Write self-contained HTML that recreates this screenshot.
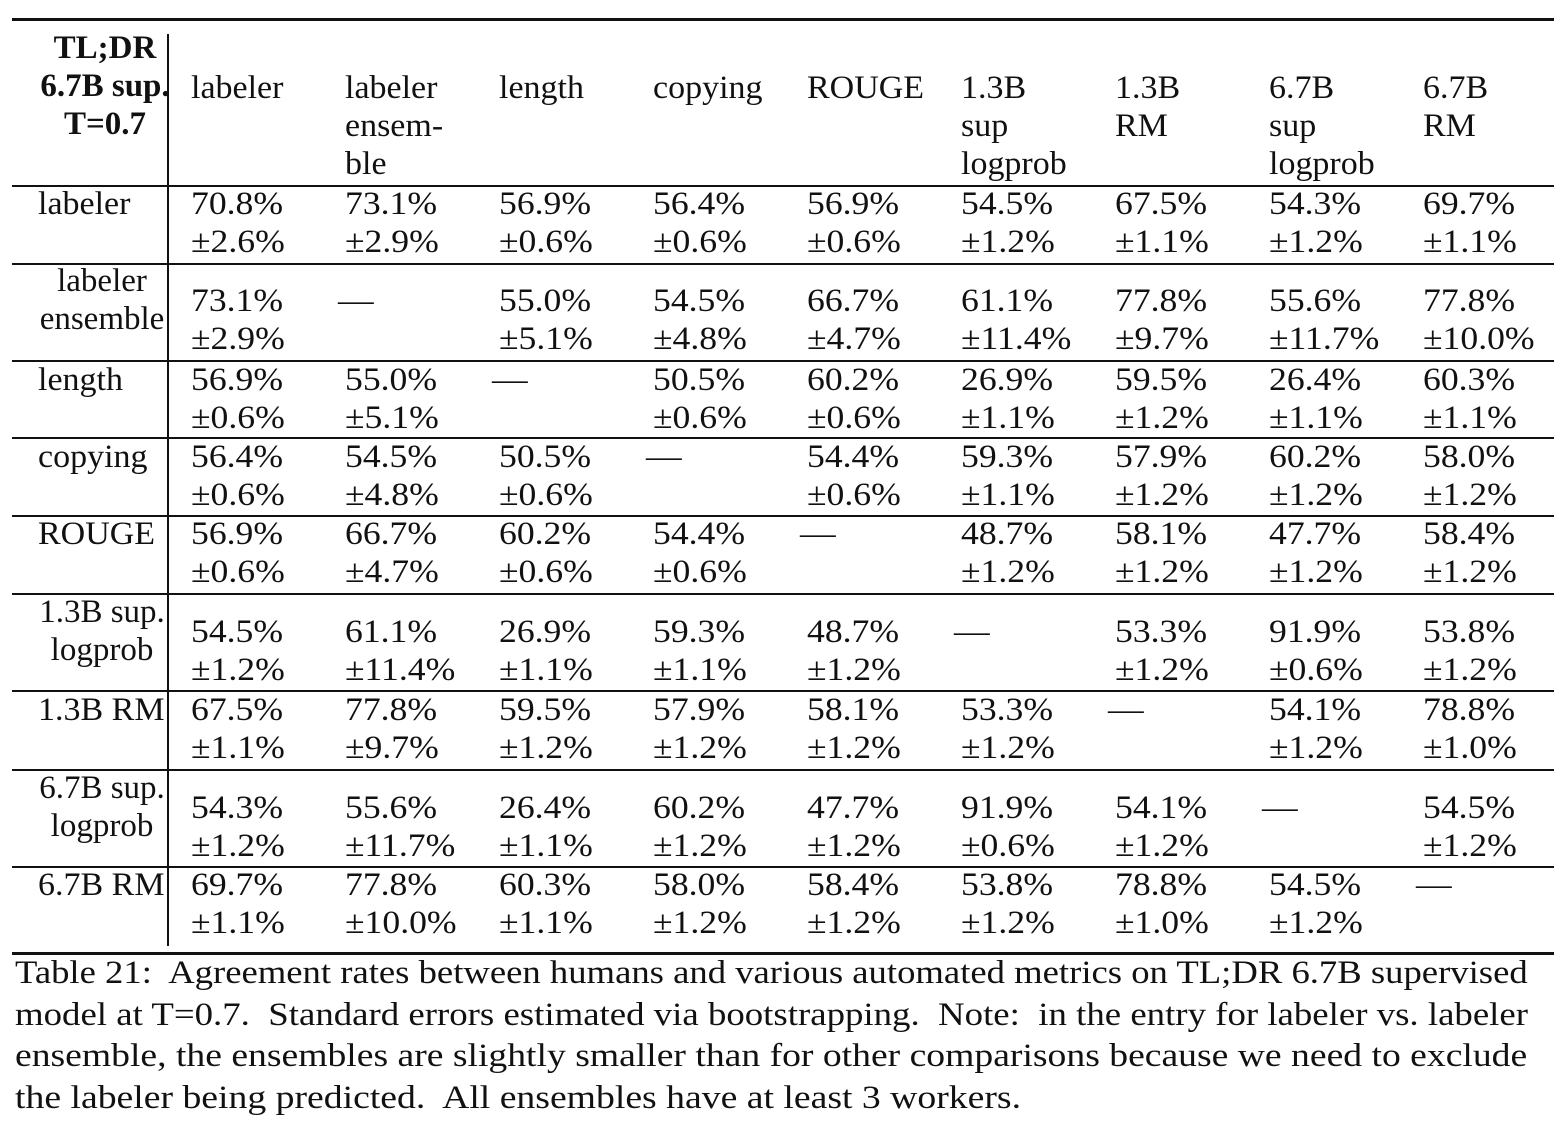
<!DOCTYPE html>
<html><head><meta charset="utf-8"><style>
body{margin:0;width:1568px;height:1144px;background:#fff;position:relative;overflow:hidden;font-family:"Liberation Serif",serif;font-size:33px;color:#111}
.t{position:absolute;white-space:nowrap;line-height:38px;transform-origin:0 0;transform:scaleX(1.08)}
.w{transform:scaleX(1.03)}
.h{position:absolute;background:#111;left:12px;width:1542px}
.v{position:absolute;background:#111;left:167px;width:2px;top:34px;height:912px}
.c{position:absolute;white-space:nowrap;line-height:38px;text-align:center;width:156px;left:12px}
.b{font-weight:bold}
.cap{position:absolute;left:15px;white-space:nowrap;line-height:41.6px;font-size:32.5px;transform-origin:0 0}
</style></head><body>
<div class="h" style="top:18px;height:3px"></div>
<div class="h" style="top:185px;height:2px"></div>
<div class="h" style="top:263px;height:2px"></div>
<div class="h" style="top:360px;height:2px"></div>
<div class="h" style="top:437px;height:2px"></div>
<div class="h" style="top:515px;height:2px"></div>
<div class="h" style="top:593px;height:2px"></div>
<div class="h" style="top:690px;height:2px"></div>
<div class="h" style="top:769px;height:2px"></div>
<div class="h" style="top:866px;height:2px"></div>
<div class="h" style="top:952px;height:3px"></div>
<div class="v"></div>

<div class="c b" style="top:29px;left:24px;width:162px">TL;DR<br>6.7B sup.<br>T=0.7</div>
<div class="t w" style="left:191px;top:69px">labeler</div>
<div class="t w" style="left:345px;top:69px">labeler<br>ensem-<br>ble</div>
<div class="t w" style="left:499px;top:69px">length</div>
<div class="t w" style="left:653px;top:69px">copying</div>
<div class="t w" style="left:807px;top:69px">ROUGE</div>
<div class="t w" style="left:961px;top:69px">1.3B<br>sup<br>logprob</div>
<div class="t w" style="left:1115px;top:69px">1.3B<br>RM</div>
<div class="t w" style="left:1269px;top:69px">6.7B<br>sup<br>logprob</div>
<div class="t w" style="left:1423px;top:69px">6.7B<br>RM</div>

<div class="t w" style="left:38px;top:185px">labeler</div>
<div class="c" style="top:262px;left:24px">labeler<br>ensemble</div>
<div class="t w" style="left:38px;top:361px">length</div>
<div class="t w" style="left:38px;top:438px">copying</div>
<div class="t w" style="left:38px;top:515px">ROUGE</div>
<div class="c" style="top:593px;left:24px">1.3B sup.<br>logprob</div>
<div class="t w" style="left:38px;top:691px">1.3B RM</div>
<div class="c" style="top:769px;left:24px">6.7B sup.<br>logprob</div>
<div class="t w" style="left:38px;top:866px">6.7B RM</div>

<div class="t" style="left:191px;top:185px">70.8%<br>±2.6%</div>
<div class="t" style="left:345px;top:185px">73.1%<br>±2.9%</div>
<div class="t" style="left:499px;top:185px">56.9%<br>±0.6%</div>
<div class="t" style="left:653px;top:185px">56.4%<br>±0.6%</div>
<div class="t" style="left:807px;top:185px">56.9%<br>±0.6%</div>
<div class="t" style="left:961px;top:185px">54.5%<br>±1.2%</div>
<div class="t" style="left:1115px;top:185px">67.5%<br>±1.1%</div>
<div class="t" style="left:1269px;top:185px">54.3%<br>±1.2%</div>
<div class="t" style="left:1423px;top:185px">69.7%<br>±1.1%</div>

<div class="t" style="left:191px;top:282px">73.1%<br>±2.9%</div>
<div class="t" style="left:338px;top:282px">—</div>
<div class="t" style="left:499px;top:282px">55.0%<br>±5.1%</div>
<div class="t" style="left:653px;top:282px">54.5%<br>±4.8%</div>
<div class="t" style="left:807px;top:282px">66.7%<br>±4.7%</div>
<div class="t" style="left:961px;top:282px">61.1%<br>±11.4%</div>
<div class="t" style="left:1115px;top:282px">77.8%<br>±9.7%</div>
<div class="t" style="left:1269px;top:282px">55.6%<br>±11.7%</div>
<div class="t" style="left:1423px;top:282px">77.8%<br>±10.0%</div>

<div class="t" style="left:191px;top:361px">56.9%<br>±0.6%</div>
<div class="t" style="left:345px;top:361px">55.0%<br>±5.1%</div>
<div class="t" style="left:492px;top:361px">—</div>
<div class="t" style="left:653px;top:361px">50.5%<br>±0.6%</div>
<div class="t" style="left:807px;top:361px">60.2%<br>±0.6%</div>
<div class="t" style="left:961px;top:361px">26.9%<br>±1.1%</div>
<div class="t" style="left:1115px;top:361px">59.5%<br>±1.2%</div>
<div class="t" style="left:1269px;top:361px">26.4%<br>±1.1%</div>
<div class="t" style="left:1423px;top:361px">60.3%<br>±1.1%</div>

<div class="t" style="left:191px;top:438px">56.4%<br>±0.6%</div>
<div class="t" style="left:345px;top:438px">54.5%<br>±4.8%</div>
<div class="t" style="left:499px;top:438px">50.5%<br>±0.6%</div>
<div class="t" style="left:646px;top:438px">—</div>
<div class="t" style="left:807px;top:438px">54.4%<br>±0.6%</div>
<div class="t" style="left:961px;top:438px">59.3%<br>±1.1%</div>
<div class="t" style="left:1115px;top:438px">57.9%<br>±1.2%</div>
<div class="t" style="left:1269px;top:438px">60.2%<br>±1.2%</div>
<div class="t" style="left:1423px;top:438px">58.0%<br>±1.2%</div>

<div class="t" style="left:191px;top:515px">56.9%<br>±0.6%</div>
<div class="t" style="left:345px;top:515px">66.7%<br>±4.7%</div>
<div class="t" style="left:499px;top:515px">60.2%<br>±0.6%</div>
<div class="t" style="left:653px;top:515px">54.4%<br>±0.6%</div>
<div class="t" style="left:800px;top:515px">—</div>
<div class="t" style="left:961px;top:515px">48.7%<br>±1.2%</div>
<div class="t" style="left:1115px;top:515px">58.1%<br>±1.2%</div>
<div class="t" style="left:1269px;top:515px">47.7%<br>±1.2%</div>
<div class="t" style="left:1423px;top:515px">58.4%<br>±1.2%</div>

<div class="t" style="left:191px;top:613px">54.5%<br>±1.2%</div>
<div class="t" style="left:345px;top:613px">61.1%<br>±11.4%</div>
<div class="t" style="left:499px;top:613px">26.9%<br>±1.1%</div>
<div class="t" style="left:653px;top:613px">59.3%<br>±1.1%</div>
<div class="t" style="left:807px;top:613px">48.7%<br>±1.2%</div>
<div class="t" style="left:954px;top:613px">—</div>
<div class="t" style="left:1115px;top:613px">53.3%<br>±1.2%</div>
<div class="t" style="left:1269px;top:613px">91.9%<br>±0.6%</div>
<div class="t" style="left:1423px;top:613px">53.8%<br>±1.2%</div>

<div class="t" style="left:191px;top:691px">67.5%<br>±1.1%</div>
<div class="t" style="left:345px;top:691px">77.8%<br>±9.7%</div>
<div class="t" style="left:499px;top:691px">59.5%<br>±1.2%</div>
<div class="t" style="left:653px;top:691px">57.9%<br>±1.2%</div>
<div class="t" style="left:807px;top:691px">58.1%<br>±1.2%</div>
<div class="t" style="left:961px;top:691px">53.3%<br>±1.2%</div>
<div class="t" style="left:1108px;top:691px">—</div>
<div class="t" style="left:1269px;top:691px">54.1%<br>±1.2%</div>
<div class="t" style="left:1423px;top:691px">78.8%<br>±1.0%</div>

<div class="t" style="left:191px;top:789px">54.3%<br>±1.2%</div>
<div class="t" style="left:345px;top:789px">55.6%<br>±11.7%</div>
<div class="t" style="left:499px;top:789px">26.4%<br>±1.1%</div>
<div class="t" style="left:653px;top:789px">60.2%<br>±1.2%</div>
<div class="t" style="left:807px;top:789px">47.7%<br>±1.2%</div>
<div class="t" style="left:961px;top:789px">91.9%<br>±0.6%</div>
<div class="t" style="left:1115px;top:789px">54.1%<br>±1.2%</div>
<div class="t" style="left:1262px;top:789px">—</div>
<div class="t" style="left:1423px;top:789px">54.5%<br>±1.2%</div>

<div class="t" style="left:191px;top:866px">69.7%<br>±1.1%</div>
<div class="t" style="left:345px;top:866px">77.8%<br>±10.0%</div>
<div class="t" style="left:499px;top:866px">60.3%<br>±1.1%</div>
<div class="t" style="left:653px;top:866px">58.0%<br>±1.2%</div>
<div class="t" style="left:807px;top:866px">58.4%<br>±1.2%</div>
<div class="t" style="left:961px;top:866px">53.8%<br>±1.2%</div>
<div class="t" style="left:1115px;top:866px">78.8%<br>±1.0%</div>
<div class="t" style="left:1269px;top:866px">54.5%<br>±1.2%</div>
<div class="t" style="left:1416px;top:866px">—</div>

<div class="cap" style="top:953px;transform:scaleX(1.128)">Table 21:&nbsp; Agreement rates between humans and various automated metrics on TL;DR 6.7B supervised</div>
<div class="cap" style="top:995px;transform:scaleX(1.133)">model at T=0.7.&nbsp; Standard errors estimated via bootstrapping.&nbsp; Note:&nbsp; in the entry for labeler vs. labeler</div>
<div class="cap" style="top:1036px;transform:scaleX(1.158)">ensemble, the ensembles are slightly smaller than for other comparisons because we need to exclude</div>
<div class="cap" style="top:1078px;transform:scaleX(1.16)">the labeler being predicted.&nbsp; All ensembles have at least 3 workers.</div>
</body></html>
